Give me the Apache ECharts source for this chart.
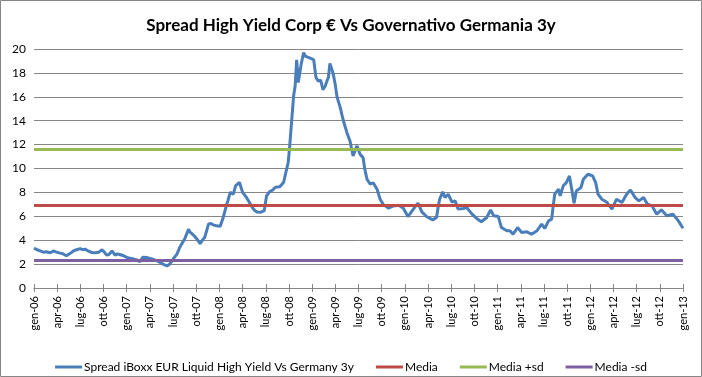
<!DOCTYPE html>
<html>
<head>
<meta charset="utf-8">
<title>Spread High Yield Corp € Vs Governativo Germania 3y</title>
<script src="https://cdn.jsdelivr.net/npm/echarts@6/dist/echarts.min.js"></script>
<style>
html, body { margin: 0; padding: 0; background: #fff; }
#chart_content { width: 702px; height: 377px; }
</style>
</head>
<body>
<div id="chart_content"></div>
<script>
// mesi dall'inizio (gen-06 = 0)
var month_index = [
	0, 0.4, 0.8, 1.2, 1.6, 2.1, 2.5, 2.9, 3.4, 3.8, 4.2, 4.7, 5.1, 5.5, 6.0, 6.3, 6.6, 7.0, 7.5, 7.9,
	8.1, 8.4, 8.8, 9.1, 9.4, 9.7, 10.1, 10.5, 10.8, 11.1, 11.6, 12.0, 12.4, 12.9, 13.3, 13.7, 14.1, 14.6, 15.0, 15.4,
	15.9, 16.3, 16.7, 17.2, 17.5, 17.8, 18.1, 18.5, 18.8, 19.1, 19.5, 20.0, 20.2, 20.5, 20.8, 21.2, 21.5, 21.8, 22.1, 22.6,
	22.9, 23.2, 23.6, 24.1, 24.5, 24.9, 25.1, 25.4, 25.8, 26.1, 26.6, 27.0, 27.5, 28.0, 28.3, 28.6, 28.9, 29.3, 29.5, 29.8,
	30.1, 30.5, 30.9, 31.2, 31.5, 31.8, 32.3, 32.6, 32.9, 33.1, 33.4, 33.6, 33.8, 34.0, 34.2, 34.4, 34.6, 34.9, 35.1, 35.3,
	35.5, 35.7, 35.9, 36.2, 36.5, 36.8, 37.1, 37.4, 37.7, 37.9, 38.1, 38.3, 38.5, 38.7, 39.0, 39.2, 39.4, 39.6, 40.0, 40.5,
	40.9, 41.3, 41.8, 42.2, 42.6, 42.8, 43.1, 43.5, 43.9, 44.4, 44.8, 45.2, 45.9, 46.5, 47.2, 47.8, 48.4, 49.1, 49.7, 50.2,
	50.8, 51.6, 52.1, 52.3, 52.5, 52.9, 53.2, 53.6, 54.1, 54.5, 54.9, 55.6, 56.0, 56.7, 57.3, 57.9, 58.6, 59.1, 59.5, 60.1,
	60.5, 61.2, 61.6, 62.0, 62.6, 63.1, 63.8, 64.4, 65.1, 65.7, 66.1, 66.6, 67.0, 67.2, 67.4, 67.9, 68.1, 68.5, 68.9, 69.3,
	69.6, 69.9, 70.2, 70.8, 71.1, 71.7, 72.3, 72.7, 73.0, 73.5, 74.1, 74.8, 75.4, 76.1, 76.7, 77.2, 77.8, 78.3, 78.9, 79.4,
	80.0, 80.6, 81.2, 81.9, 82.7, 83.4, 84.0
];
// Spread iBoxx EUR Liquid High Yield Vs Germany 3y
var spread_values = [
	3.34, 3.2, 3.1, 3.0, 3.03, 2.95, 3.1, 3.0, 2.92, 2.85, 2.7, 2.9, 3.1, 3.2, 3.3, 3.2, 3.25, 3.1, 2.97, 2.95,
	2.92, 3.0, 3.2, 3.0, 2.75, 2.8, 3.1, 2.75, 2.85, 2.8, 2.7, 2.56, 2.5, 2.42, 2.35, 2.2, 2.58, 2.55, 2.47, 2.4,
	2.28, 2.15, 2.0, 1.86, 1.95, 2.2, 2.5, 2.84, 3.3, 3.67, 4.1, 4.92, 4.67, 4.5, 4.33, 4.0, 3.7, 4.0, 4.25, 5.36,
	5.4, 5.28, 5.2, 5.17, 5.92, 6.9, 7.3, 8.0, 7.86, 8.56, 8.83, 8.0, 7.58, 7.03, 6.7, 6.47, 6.35, 6.33, 6.35, 6.47,
	7.72, 8.06, 8.2, 8.42, 8.45, 8.47, 8.83, 9.67, 10.5, 11.9, 14.4, 16.06, 16.9, 19.1, 17.2, 18.0, 18.8, 19.7, 19.4, 19.5,
	19.3, 19.4, 19.2, 19.1, 17.6, 17.3, 17.4, 16.6, 16.9, 17.3, 17.6, 18.8, 18.4, 18.0, 17.0, 16.06, 15.6, 15.2, 14.1, 13.0,
	12.3, 11.05, 11.9, 11.2, 10.9, 10.0, 9.1, 8.7, 8.8, 8.27, 7.43, 7.0, 6.68, 6.87, 6.93, 6.68, 5.98, 6.6, 7.1, 6.37,
	5.98, 5.7, 5.9, 6.74, 7.43, 8.04, 7.57, 7.85, 7.2, 7.29, 6.6, 6.65, 6.74, 6.18, 5.82, 5.54, 5.9, 6.54, 6.04, 5.98,
	5.06, 4.79, 4.79, 4.5, 5.06, 4.65, 4.7, 4.5, 4.79, 5.34, 4.98, 5.62, 5.76, 6.87, 7.85, 8.27, 7.71, 8.55, 8.82, 9.38,
	8.27, 7.1, 8.13, 8.41, 9.1, 9.52, 9.38, 8.82, 7.85, 7.43, 7.2, 6.6, 7.43, 7.15, 7.85, 8.2, 7.57, 7.29, 7.57, 7.01,
	6.87, 6.18, 6.54, 6.04, 6.18, 5.62, 5.0
];
// livelli orizzontali
var media_value = 6.9;
var media_plus_sd_value = 11.6;
var media_minus_sd_value = 2.3;
// etichette trimestrali asse x
var tick_labels = [
	"gen-06", "apr-06", "lug-06", "ott-06",
	"gen-07", "apr-07", "lug-07", "ott-07",
	"gen-08", "apr-08", "lug-08", "ott-08",
	"gen-09", "apr-09", "lug-09", "ott-09",
	"gen-10", "apr-10", "lug-10", "ott-10",
	"gen-11", "apr-11", "lug-11", "ott-11",
	"gen-12", "apr-12", "lug-12", "ott-12",
	"gen-13"
];
var series_names = ["Spread iBoxx EUR Liquid High Yield Vs Germany 3y", "Media", "Media +sd", "Media -sd"];
var series_colors = ["#4a7ebb", "#be4b48", "#98b954", "#7d60a0"];

var x_min = 0;
var x_max = 84;

var spread_data = [];
for (var i = 0; i < month_index.length; i++) {
	spread_data.push([month_index[i], spread_values[i]]);
}
function flat_line(v) {
	return [[x_min, v], [x_max, v]];
}

var text_font = "Lato, 'Open Sans', sans-serif";
var base_x_axis = {
	type: "value",
	min: x_min,
	max: x_max,
	interval: 3,
	splitLine: { show: false },
	axisLine: { show: true, lineStyle: { color: "#868686", width: 1 } }
};

var chart = echarts.init(document.getElementById("chart_content"), null, { renderer: "canvas" });
var option = {
	animation: false,
	color: series_colors,
	title: {
		text: "Spread High Yield Corp € Vs Governativo Germania 3y",
		left: "center",
		top: 12,
		textStyle: { fontFamily: text_font, fontSize: 17, fontWeight: "bold", color: "#000" }
	},
	graphic: [{
		type: "rect",
		shape: { x: 0.5, y: 0.5, width: 701, height: 376 },
		style: { fill: "none", stroke: "#868686", lineWidth: 1 },
		silent: true
	}],
	legend: {
		data: series_names,
		top: 356,
		left: "center",
		itemWidth: 27,
		itemHeight: 3,
		itemGap: 22,
		icon: "rect",
		textStyle: { fontFamily: text_font, fontSize: 12, color: "#000", padding: [0, 0, 0, -3] }
	},
	grid: { left: 34, right: 19, top: 49, bottom: 89, containLabel: false },
	xAxis: [
		echarts.util.merge({
			axisTick: { show: true, length: 4, inside: false, lineStyle: { color: "#868686" } },
			axisLabel: {
				rotate: 90,
				margin: 8,
				fontFamily: text_font,
				fontSize: 11,
				color: "#000",
				formatter: function (v) { return tick_labels[Math.round(v / 3)]; }
			}
		}, base_x_axis, true),
		echarts.util.merge({
			position: "bottom",
			axisTick: { show: true, length: 4, inside: true, lineStyle: { color: "#868686" } },
			axisLabel: { show: false }
		}, base_x_axis, true)
	],
	yAxis: {
		type: "value",
		min: 0,
		max: 20,
		interval: 2,
		axisLine: { show: false },
		axisTick: { show: false },
		axisLabel: { fontFamily: text_font, fontSize: 12, color: "#000", margin: 8 },
		splitLine: { lineStyle: { color: "#868686", width: 1 } }
	},
	series: [
		{
			name: series_names[0],
			type: "line",
			data: spread_data,
			showSymbol: false,
			lineStyle: { width: 3, color: series_colors[0] },
			itemStyle: { color: series_colors[0] }
		},
		{
			name: series_names[1],
			type: "line",
			data: flat_line(media_value),
			showSymbol: false,
			lineStyle: { width: 3, color: series_colors[1] },
			itemStyle: { color: series_colors[1] }
		},
		{
			name: series_names[2],
			type: "line",
			data: flat_line(media_plus_sd_value),
			showSymbol: false,
			lineStyle: { width: 3, color: series_colors[2] },
			itemStyle: { color: series_colors[2] }
		},
		{
			name: series_names[3],
			type: "line",
			data: flat_line(media_minus_sd_value),
			showSymbol: false,
			lineStyle: { width: 3, color: series_colors[3] },
			itemStyle: { color: series_colors[3] }
		}
	]
};
chart.setOption(option);
</script>
</body>
</html>
